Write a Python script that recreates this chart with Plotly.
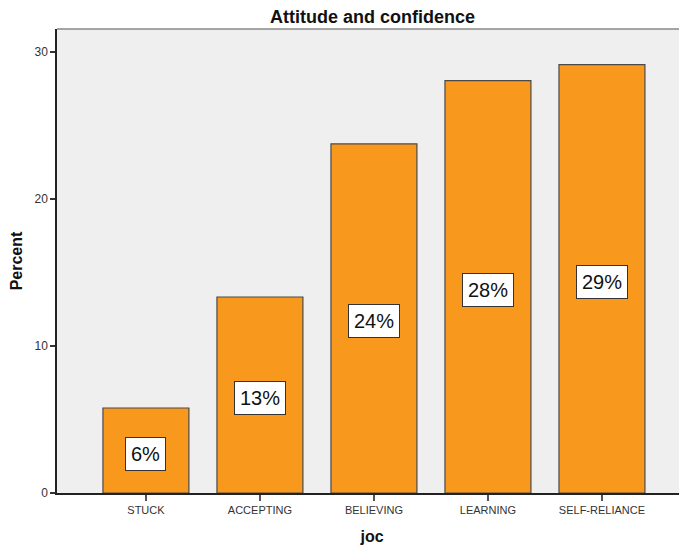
import plotly.graph_objects as go

categories = ["STUCK", "ACCEPTING", "BELIEVING", "LEARNING", "SELF-RELIANCE"]
percent = [5.78, 13.33, 23.74, 28.05, 29.14]
labels = ["6%", "13%", "24%", "28%", "29%"]
y_ticks = [0, 10, 20, 30]

# the page adds an 8px body margin; the figure is sized to fill the rest
W, H = 679, 541

fig = go.Figure()
fig.add_trace(go.Bar(
    x=list(range(len(categories))),
    y=percent,
    width=0.754,
    marker=dict(color="#F8981D", line=dict(color="#4a4a4a", width=1.2)),
    hoverinfo="skip",
))

for i, (v, t) in enumerate(zip(percent, labels)):
    fig.add_annotation(
        x=i, y=v / 2, text=t, showarrow=False, yshift=-3,
        font=dict(family="Liberation Sans, Arial", size=20, color="#111111"),
        bgcolor="white", bordercolor="#333333", borderwidth=1, borderpad=5,
    )

fig.add_shape(type="line", xref="paper", yref="paper", x0=0, x1=1, y0=1, y1=1,
              line=dict(color="#888888", width=1.5))

fig.add_annotation(xref="paper", yref="paper", x=0.5, y=1, yshift=12,
                   text="<b>Attitude and confidence</b>", showarrow=False,
                   xanchor="center", yanchor="middle",
                   font=dict(family="Liberation Sans, Arial", size=18, color="#111111"))

fig.update_layout(
    width=W, height=H,
    margin=dict(l=49, r=0, t=21, b=56),
    paper_bgcolor="white",
    plot_bgcolor="#efefef",
    showlegend=False,
    font=dict(family="Liberation Sans, Arial", color="#333333"),
    xaxis=dict(
        range=[-0.78, 4.746],
        tickmode="array", tickvals=list(range(len(categories))), ticktext=categories,
        ticks="outside", ticklen=6, tickcolor="#555555", tickwidth=1.5,
        tickfont=dict(size=11, color="#333333"),
        showline=True, linecolor="#222222", linewidth=1.5,
        showgrid=False, zeroline=False,
        title=dict(text="<b>joc</b>", font=dict(size=16, color="#111111"), standoff=16),
    ),
    yaxis=dict(
        range=[0, 31.56],
        tickmode="array", tickvals=y_ticks,
        ticks="outside", ticklen=5, tickcolor="#333333", tickwidth=1.5,
        tickfont=dict(size=12, color="#333333"),
        showline=True, linecolor="#222222", linewidth=1.5,
        showgrid=False, zeroline=False,
        title=dict(text="<b>Percent</b>", font=dict(size=16, color="#111111"), standoff=13),
    ),
)

fig.write_html("out.html")
